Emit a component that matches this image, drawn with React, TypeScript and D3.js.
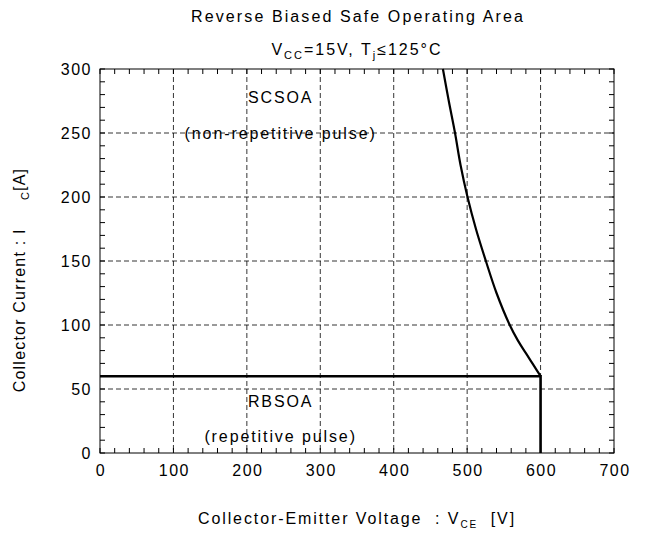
import React, { useEffect, useRef } from 'react';
import * as d3 from 'd3';

// SCSOA boundary (V, A)
const scVoltage = [467, 475, 483.5, 491, 500.5, 512, 525.5, 540, 558, 569, 580, 590, 600];
const scCurrent = [300, 275, 250, 225, 200, 175, 150, 125, 100, 88, 78, 69, 60];
// RBSOA boundary
const rbVoltage = [0, 600, 600];
const rbCurrent = [60, 60, 0];

const xTicks = [0, 100, 200, 300, 400, 500, 600, 700];
const yTicks = [0, 50, 100, 150, 200, 250, 300];

const App = () => {
  const svgRef = useRef<SVGSVGElement>(null);

  useEffect(() => {
    const width = 645;
    const height = 533;
    const margin = { top: 69, right: 31, bottom: 80, left: 100 };
    const svg = d3.select(svgRef.current);
    svg.selectAll('*').remove();
    svg.attr('width', width).attr('height', height)
      .style('position', 'absolute').style('left', '0px').style('top', '0px')
      .style('font-family', '"Liberation Sans", Arial, sans-serif');

    const iw = width - margin.left - margin.right;
    const ih = height - margin.top - margin.bottom;
    const chart = svg.append('g').attr('transform', `translate(${margin.left},${margin.top})`);

    const x = d3.scaleLinear().domain([0, 700]).range([0, iw]);
    const y = d3.scaleLinear().domain([0, 300]).range([ih, 0]);

    // grid
    chart.append('g').selectAll('line')
      .data(xTicks.slice(1, -1))
      .enter().append('line')
      .attr('x1', d => x(d)).attr('x2', d => x(d))
      .attr('y1', 0).attr('y2', ih)
      .attr('stroke', '#000').attr('stroke-width', 0.8).attr('stroke-dasharray', '5,3');
    chart.append('g').selectAll('line')
      .data(yTicks.slice(1, -1))
      .enter().append('line')
      .attr('y1', d => y(d)).attr('y2', d => y(d))
      .attr('x1', 0).attr('x2', iw)
      .attr('stroke', '#000').attr('stroke-width', 0.8).attr('stroke-dasharray', '5,3');

    // minor ticks, inward on all sides
    const xMinor = d3.range(0, 701, 20);
    const yMinor = d3.range(0, 301, 10);
    const tl = 5;
    const ticks = chart.append('g').attr('stroke', '#000').attr('stroke-width', 1);
    xMinor.forEach(v => {
      ticks.append('line').attr('x1', x(v)).attr('x2', x(v)).attr('y1', ih).attr('y2', ih - tl);
      ticks.append('line').attr('x1', x(v)).attr('x2', x(v)).attr('y1', 0).attr('y2', tl);
    });
    yMinor.forEach(v => {
      ticks.append('line').attr('y1', y(v)).attr('y2', y(v)).attr('x1', 0).attr('x2', tl);
      ticks.append('line').attr('y1', y(v)).attr('y2', y(v)).attr('x1', iw).attr('x2', iw - tl);
    });

    chart.append('rect')
      .attr('width', iw).attr('height', ih)
      .attr('fill', 'none').attr('stroke', '#000').attr('stroke-width', 1);

    // tick labels
    chart.append('g').selectAll('text')
      .data(xTicks).enter().append('text')
      .attr('x', d => x(d) + 1).attr('y', ih + 23)
      .attr('text-anchor', 'middle').attr('font-size', 16).attr('letter-spacing', 1.5)
      .text(d => d);
    chart.append('g').selectAll('text')
      .data(yTicks).enter().append('text')
      .attr('x', -8).attr('y', d => y(d) + 6)
      .attr('text-anchor', 'end').attr('font-size', 16).attr('letter-spacing', 1.5)
      .text(d => d);

    // boundaries
    const line = d3.line<number>().x(i => x(scVoltage[i])).y(i => y(scCurrent[i])).curve(d3.curveCatmullRom);
    chart.append('path')
      .attr('d', line(d3.range(scVoltage.length)))
      .attr('fill', 'none').attr('stroke', '#000').attr('stroke-width', 2.2);
    const rbLine = d3.line<number>().x(i => x(rbVoltage[i])).y(i => y(rbCurrent[i]));
    chart.append('path')
      .attr('d', rbLine(d3.range(rbVoltage.length)))
      .attr('fill', 'none').attr('stroke', '#000').attr('stroke-width', 2.6);

    // region labels
    const label = (t: string, vx: number, vy: number) =>
      chart.append('text')
        .attr('x', x(vx)).attr('y', y(vy))
        .attr('text-anchor', 'middle').attr('font-size', 16).attr('letter-spacing', 1.9)
        .text(t);
    label('SCSOA', 246, 273.5);
    label('(non-repetitive pulse)', 246, 245);
    label('RBSOA', 246, 36);
    label('(repetitive pulse)', 246, 8.5);

    // title
    svg.append('text')
      .attr('x', 358).attr('y', 21.5)
      .attr('text-anchor', 'middle').attr('font-size', 16).attr('letter-spacing', 2.1)
      .text('Reverse Biased Safe Operating Area');

    const sub = svg.append('text')
      .attr('x', 357).attr('y', 55)
      .attr('text-anchor', 'middle').attr('font-size', 16).attr('letter-spacing', 2);
    sub.append('tspan').text('V');
    sub.append('tspan').attr('font-size', 11).attr('dy', 4).text('CC');
    sub.append('tspan').attr('dy', -4).text('=15V, T');
    sub.append('tspan').attr('font-size', 11).attr('dy', 4).text('j');
    sub.append('tspan').attr('dy', -4).text('≤125°C');

    // x-axis title
    const xl = svg.append('text')
      .attr('x', 357).attr('y', 524)
      .attr('text-anchor', 'middle').attr('font-size', 16).attr('letter-spacing', 1.9)
      .attr('xml:space', 'preserve');
    xl.append('tspan').text('Collector-Emitter Voltage  : V');
    xl.append('tspan').attr('font-size', 10).attr('dy', 4).text('CE');
    xl.append('tspan').attr('dy', -4).text('  [V]');

    // y-axis title
    const yl = svg.append('text')
      .attr('transform', `translate(25,280) rotate(-90)`)
      .attr('text-anchor', 'middle').attr('font-size', 16).attr('letter-spacing', 1.2)
      .attr('xml:space', 'preserve');
    yl.append('tspan').text('Collector Current : I     ');
    yl.append('tspan').attr('font-size', 11).attr('dy', 4).text('C');
    yl.append('tspan').attr('dy', -4).text('[A]');
  }, []);

  return (
    <div>
      <svg ref={svgRef}></svg>
    </div>
  );
};

export default App;
